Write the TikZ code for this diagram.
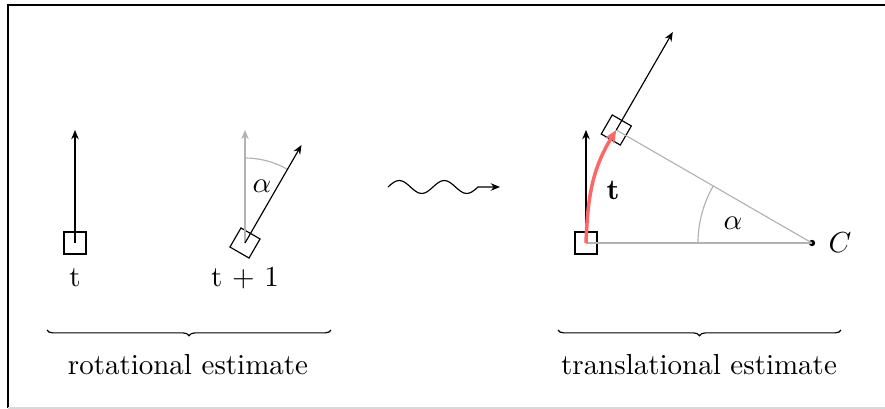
\documentclass[tikz,border=0pt]{standalone}
\usetikzlibrary{arrows.meta,calc,decorations.pathreplacing}
\begin{document}
\begin{tikzpicture}[x=0.345pt,y=0.345pt,
  sq/.style={draw,minimum size=7.6pt,inner sep=0pt},
  vec/.style={-{Stealth[length=3.2pt,width=2.6pt]}},
  gvec/.style={vec,gray!60},
  guide/.style={gray!60,line width=0.4pt},
  lbl/.style={inner sep=0pt},
  brc/.style={decorate,decoration={brace,mirror,amplitude=2pt}}]
\useasboundingbox (0,0) rectangle (885,409);
% frame
\draw[line width=0.6pt] (8,1) -- (8,404) -- (885,404);
\draw[gray!30,line width=0.6pt] (8,1) -- (885,1);
% rotational estimate
\node[sq] (s1) at (75,166) {};
\coordinate (a1) at (75,279);
\draw[vec] (s1.center) -- (a1);
\node[lbl] (t1) at (75,131) {t};
\node[sq,rotate=-30] (s2) at (245,166) {};
\coordinate (g2) at (245,279);
\coordinate (a2) at (301.5,264);
\draw[gvec] (s2.center) -- (g2);
\draw[guide] ($(s2.center)+(0,85)$) arc[start angle=90,end angle=60,radius=85];
\draw[vec] (s2.center) -- (a2);
\node[lbl] (al1) at (262,223) {$\alpha$};
\node[lbl] (t2) at (245,131) {t + 1};
% snake
\coordinate (w1) at (388,222);
\coordinate (w2) at (500,222);
\draw[vec] (w1) sin ++(11.25,6.5) cos ++(11.25,-6.5) sin ++(11.25,-6.5) cos ++(11.25,6.5)
  sin ++(11.25,6.5) cos ++(11.25,-6.5) sin ++(11.25,-6.5) cos ++(11.25,6.5) -- (w2);
% translational estimate
\node[circle,fill,inner sep=0pt,minimum size=2.2pt] (C) at (812,166) {};
\node[lbl] (Cl) at (840,166) {$C$};
\node[sq] (s3) at (586,166) {};
\node[sq,rotate=-30] (s4) at (616.3,279) {};
\draw[guide] (s3.center) -- (C.center);
\draw[guide] (s4.center) -- (C.center);
\draw[guide] ($(C.center)+(150:114)$) arc[start angle=150,end angle=180,radius=114];
\coordinate (a3) at (586,279);
\coordinate (a4) at (672.8,377);
\draw[vec] (s3.center) -- (a3);
\draw[vec] (s4.center) -- (a4);
\draw[red!60,line width=1.2pt,-{Stealth[length=4.5pt,width=3.8pt]}] (s3.center) to[out=88,in=-122] (s4.center);
\node[lbl] (al2) at (733,186) {$\alpha$};
\node[lbl] (tb) at (613,219) {$\mathbf{t}$};
% braces
\coordinate (b1) at (47,79);
\coordinate (b2) at (331,79);
\coordinate (b3) at (558,79);
\coordinate (b4) at (841,79);
\draw[brc] (b1) -- (b2);
\draw[brc] (b3) -- (b4);
\node[lbl] (r1) at (188,44) {rotational estimate};
\node[lbl] (r2) at (699,44) {translational estimate};
\end{tikzpicture}
\end{document}
